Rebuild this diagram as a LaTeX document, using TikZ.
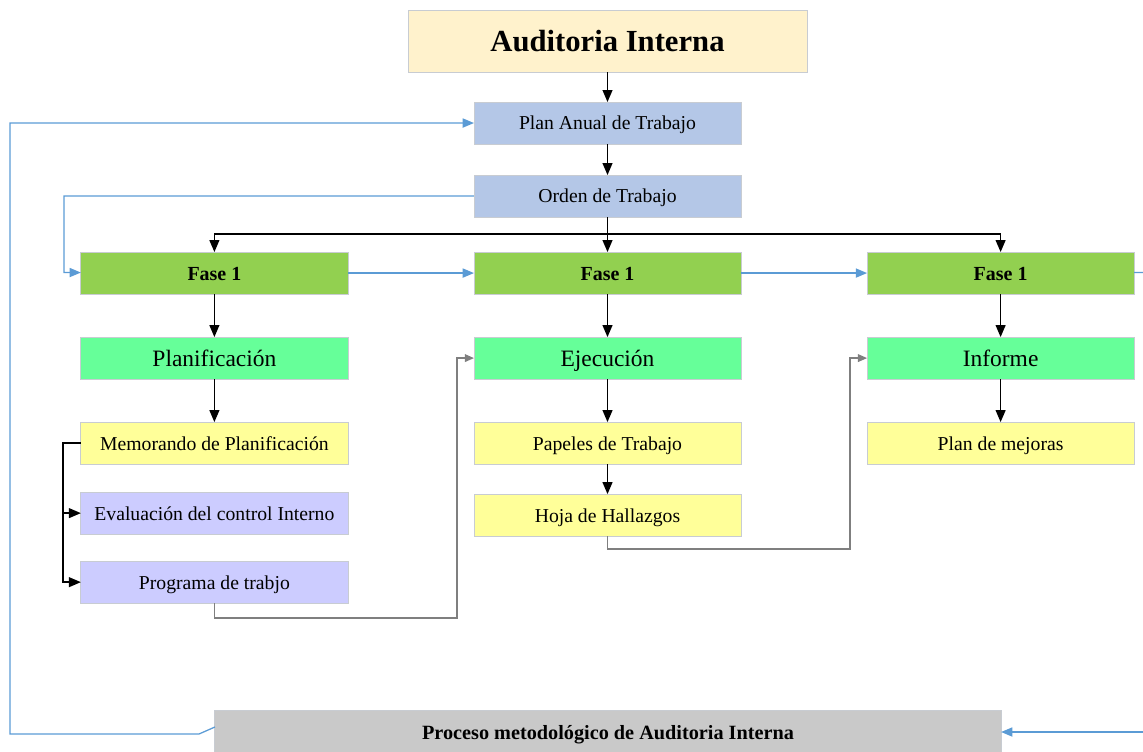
\documentclass[tikz,border=0pt]{standalone}
\usepackage{fontspec}
\setmainfont{Liberation Serif}
\usetikzlibrary{positioning, arrows.meta, calc}
\definecolor{headyellow}{HTML}{FFF2CC}
\definecolor{planblue}{HTML}{B4C7E7}
\definecolor{fasegreen}{HTML}{92D050}
\definecolor{stagegreen}{HTML}{66FF99}
\definecolor{docyellow}{HTML}{FFFF99}
\definecolor{docviolet}{HTML}{CCCCFF}
\definecolor{basegrey}{HTML}{C9C9C9}
\definecolor{boxline}{HTML}{C8CCD2}
\definecolor{linkblue}{HTML}{5B9BD5}
\definecolor{linkgrey}{HTML}{7F7F7F}

\begin{document}
\begin{tikzpicture}[
  x=0.025cm, y=-0.025cm,
  font=\fontsize{14}{17}\selectfont,
  node distance=10.75mm,
  basebox/.style={
    draw=boxline,
    line width=0.6pt,
    rectangle,
    minimum width=66.75mm,
    minimum height=10.5mm,
    text height=12.6pt,
    text depth=2.8pt,
    align=center,
    inner sep=1pt,
    outer sep=0pt,
    text=black
  },
  headbox/.style={basebox, fill=headyellow, minimum width=99.75mm, minimum height=15.5mm,
    text height=19.6pt, text depth=4.4pt,
    font=\fontsize{21.8}{24}\selectfont\bfseries},
  planbox/.style={basebox, fill=planblue},
  fasebox/.style={basebox, fill=fasegreen, text height=12.8pt,
    font=\fontsize{14.2}{17}\selectfont\bfseries},
  stagebox/.style={basebox, fill=stagegreen, text height=15pt, text depth=3.3pt,
    font=\fontsize{16.7}{19}\selectfont},
  docbox/.style={basebox, fill=docyellow},
  evalbox/.style={basebox, fill=docviolet},
  procbox/.style={basebox, fill=basegrey, minimum width=196.5mm, minimum height=11mm,
    text height=13pt, text depth=2.9pt,
    font=\fontsize{14.4}{17}\selectfont\bfseries},
  arr/.style={-{Triangle[length=8.5pt,width=7pt]}, line width=1pt, black},
  bluearr/.style={-{Triangle[length=8pt,width=6.5pt]}, line width=0.9pt, linkblue},
  greyarr/.style={-{Triangle[length=6.5pt,width=5.5pt]}, line width=0.9pt, linkgrey}
]
  \useasboundingbox (0,0) rectangle (1143,751);

  % --- Head and planning chain ---
  \node[headbox] (audit) at (607.5,41) {Auditoria Interna};
  \node[planbox, below=7.5mm of audit]  (plan)  {Plan Anual de Trabajo};
  \node[planbox, below=7.75mm of plan]  (orden) {Orden de Trabajo};

  % --- Phases ---
  \node[fasebox, below=8.75mm of orden] (fb) {Fase 1};
  \node[fasebox, left=31.5mm of fb]     (fa) {Fase 1};
  \node[fasebox, right=31.5mm of fb]    (fc) {Fase 1};

  \node[stagebox, below=of fa] (planif) {Planificación};
  \node[stagebox, below=of fb] (ejec)   {Ejecución};
  \node[stagebox, below=of fc] (inform) {Informe};

  % --- Documents per stage ---
  \node[docbox, below=of planif]        (memo)  {Memorando de Planificación};
  \node[evalbox, below=7mm of memo]     (eval)  {Evaluación del control Interno};
  \node[evalbox, below=6.75mm of eval]  (prog)  {Programa de trabjo};
  \node[docbox, below=of ejec]          (papel) {Papeles de Trabajo};
  \node[docbox, below=7.5mm of papel]   (hoja)  {Hoja de Hallazgos};
  \node[docbox, below=of inform]        (mejor) {Plan de mejoras};

  \node[procbox] (proc) at (608,732) {Proceso metodológico de Auditoria Interna};

  % --- Bend points ---
  \coordinate (split) at (607.5,234);
  \coordinate (obend) at (64,272.5);
  \coordinate (gone)  at (457,618);
  \coordinate (gtwo)  at (850,549);
  \coordinate (eone)  at (1143,272.5);
  \coordinate (etwo)  at (1143,732);
  \coordinate (lone)  at (199,734);
  \coordinate (ltwo)  at (10,734);

  % Black arrows
  \foreach \a/\b in {audit/plan, plan/orden, orden/fb, fa/planif, fb/ejec, fc/inform,
                     planif/memo, ejec/papel, papel/hoja, inform/mejor}
    \draw[arr] (\a) -- (\b);
  \draw[arr] (split) -| (fa);
  \draw[arr] (split) -| (fc);
  \draw[arr] (memo.west) -- ++(-18,0) coordinate (mbend) |- (eval);
  \draw[arr] (mbend) |- (prog);

  % Blue flow
  \draw[bluearr] (orden) -| (obend) -- (fa);
  \draw[bluearr] (fa) -- (fb);
  \draw[bluearr] (fb) -- (fc);
  \draw[linkblue, line width=0.9pt] (fc) -- (eone);
  \draw[bluearr] (etwo) -- (proc);
  \draw[bluearr] ($(proc.west)+(0,-5)$) -- (lone) -- (ltwo) |- (plan);

  % Grey links
  \draw[greyarr] (prog.south) |- (gone) |- (ejec);
  \draw[greyarr] (hoja.south) |- (gtwo) |- (inform);

\end{tikzpicture}
\end{document}
